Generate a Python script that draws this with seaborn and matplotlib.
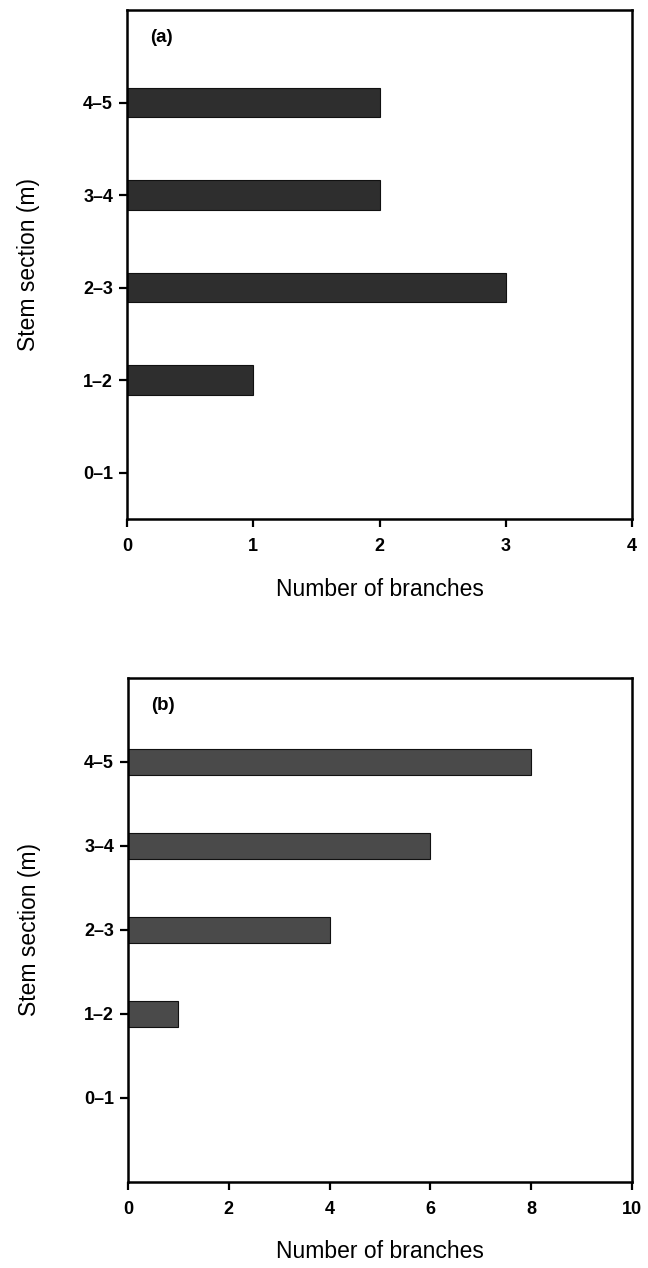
import matplotlib
matplotlib.use("Agg")
import matplotlib.pyplot as plt
import seaborn as sns
import pandas as pd

sections = ["4–5", "3–4", "2–3", "1–2", "0–1"]
branches_a = [2, 2, 3, 1, 0]
branches_b = [8, 6, 4, 1, 0]
xticks_a = [0, 1, 2, 3, 4]
xticks_b = [0, 2, 4, 6, 8, 10]

sns.set_theme(style="white")
plt.rcParams["font.family"] = ["Liberation Sans", "DejaVu Sans"]
plt.rcParams["text.color"] = "black"
plt.rcParams["axes.labelcolor"] = "black"

fig = plt.figure(figsize=(6.48, 12.68), dpi=100)
ax_a = fig.add_axes([127/648, 749/1268, 505/648, 509/1268])
ax_b = fig.add_axes([128/648, 86/1268, 504/648, 504/1268])

df_a = pd.DataFrame({"section": sections, "n": branches_a})
df_b = pd.DataFrame({"section": sections, "n": branches_b})

panels = [
    (ax_a, df_a, xticks_a, "(a)", "#2e2e2e", (4.5, -1.0)),
    (ax_b, df_b, xticks_b, "(b)", "#4a4a4a", (5.0, -1.0)),
]

for ax, df, xt, tag, col, ylim in panels:
    sns.barplot(data=df, x="n", y="section", order=sections, orient="h",
                color=col, width=0.32, edgecolor="#111111", linewidth=0.8,
                saturation=1, ax=ax)
    ax.set_xlim(xt[0], xt[-1])
    ax.set_xticks(xt)
    ax.set_ylim(*ylim)
    for s in ax.spines.values():
        s.set_visible(True)
        s.set_linewidth(1.8)
        s.set_color("black")
    ax.tick_params(axis="both", direction="out", length=6, width=1.6,
                   colors="black", labelsize=13, bottom=True, left=True)
    ax.tick_params(axis="x", pad=8)
    ax.tick_params(axis="y", pad=4)
    for lab in ax.get_xticklabels() + ax.get_yticklabels():
        lab.set_fontweight("bold")
    ax.set_xlabel("Number of branches", fontsize=16.5, va="center")
    ax.set_ylabel("Stem section (m)", fontsize=16.5, va="center")
    ax.xaxis.set_label_coords(0.5, -0.138)
    ax.yaxis.set_label_coords(-0.195, 0.5)
    ax.text(0.045, 0.945, tag, transform=ax.transAxes, fontsize=13.5,
            fontweight="bold", va="center", ha="left")

fig.savefig("out.png", dpi=100)
